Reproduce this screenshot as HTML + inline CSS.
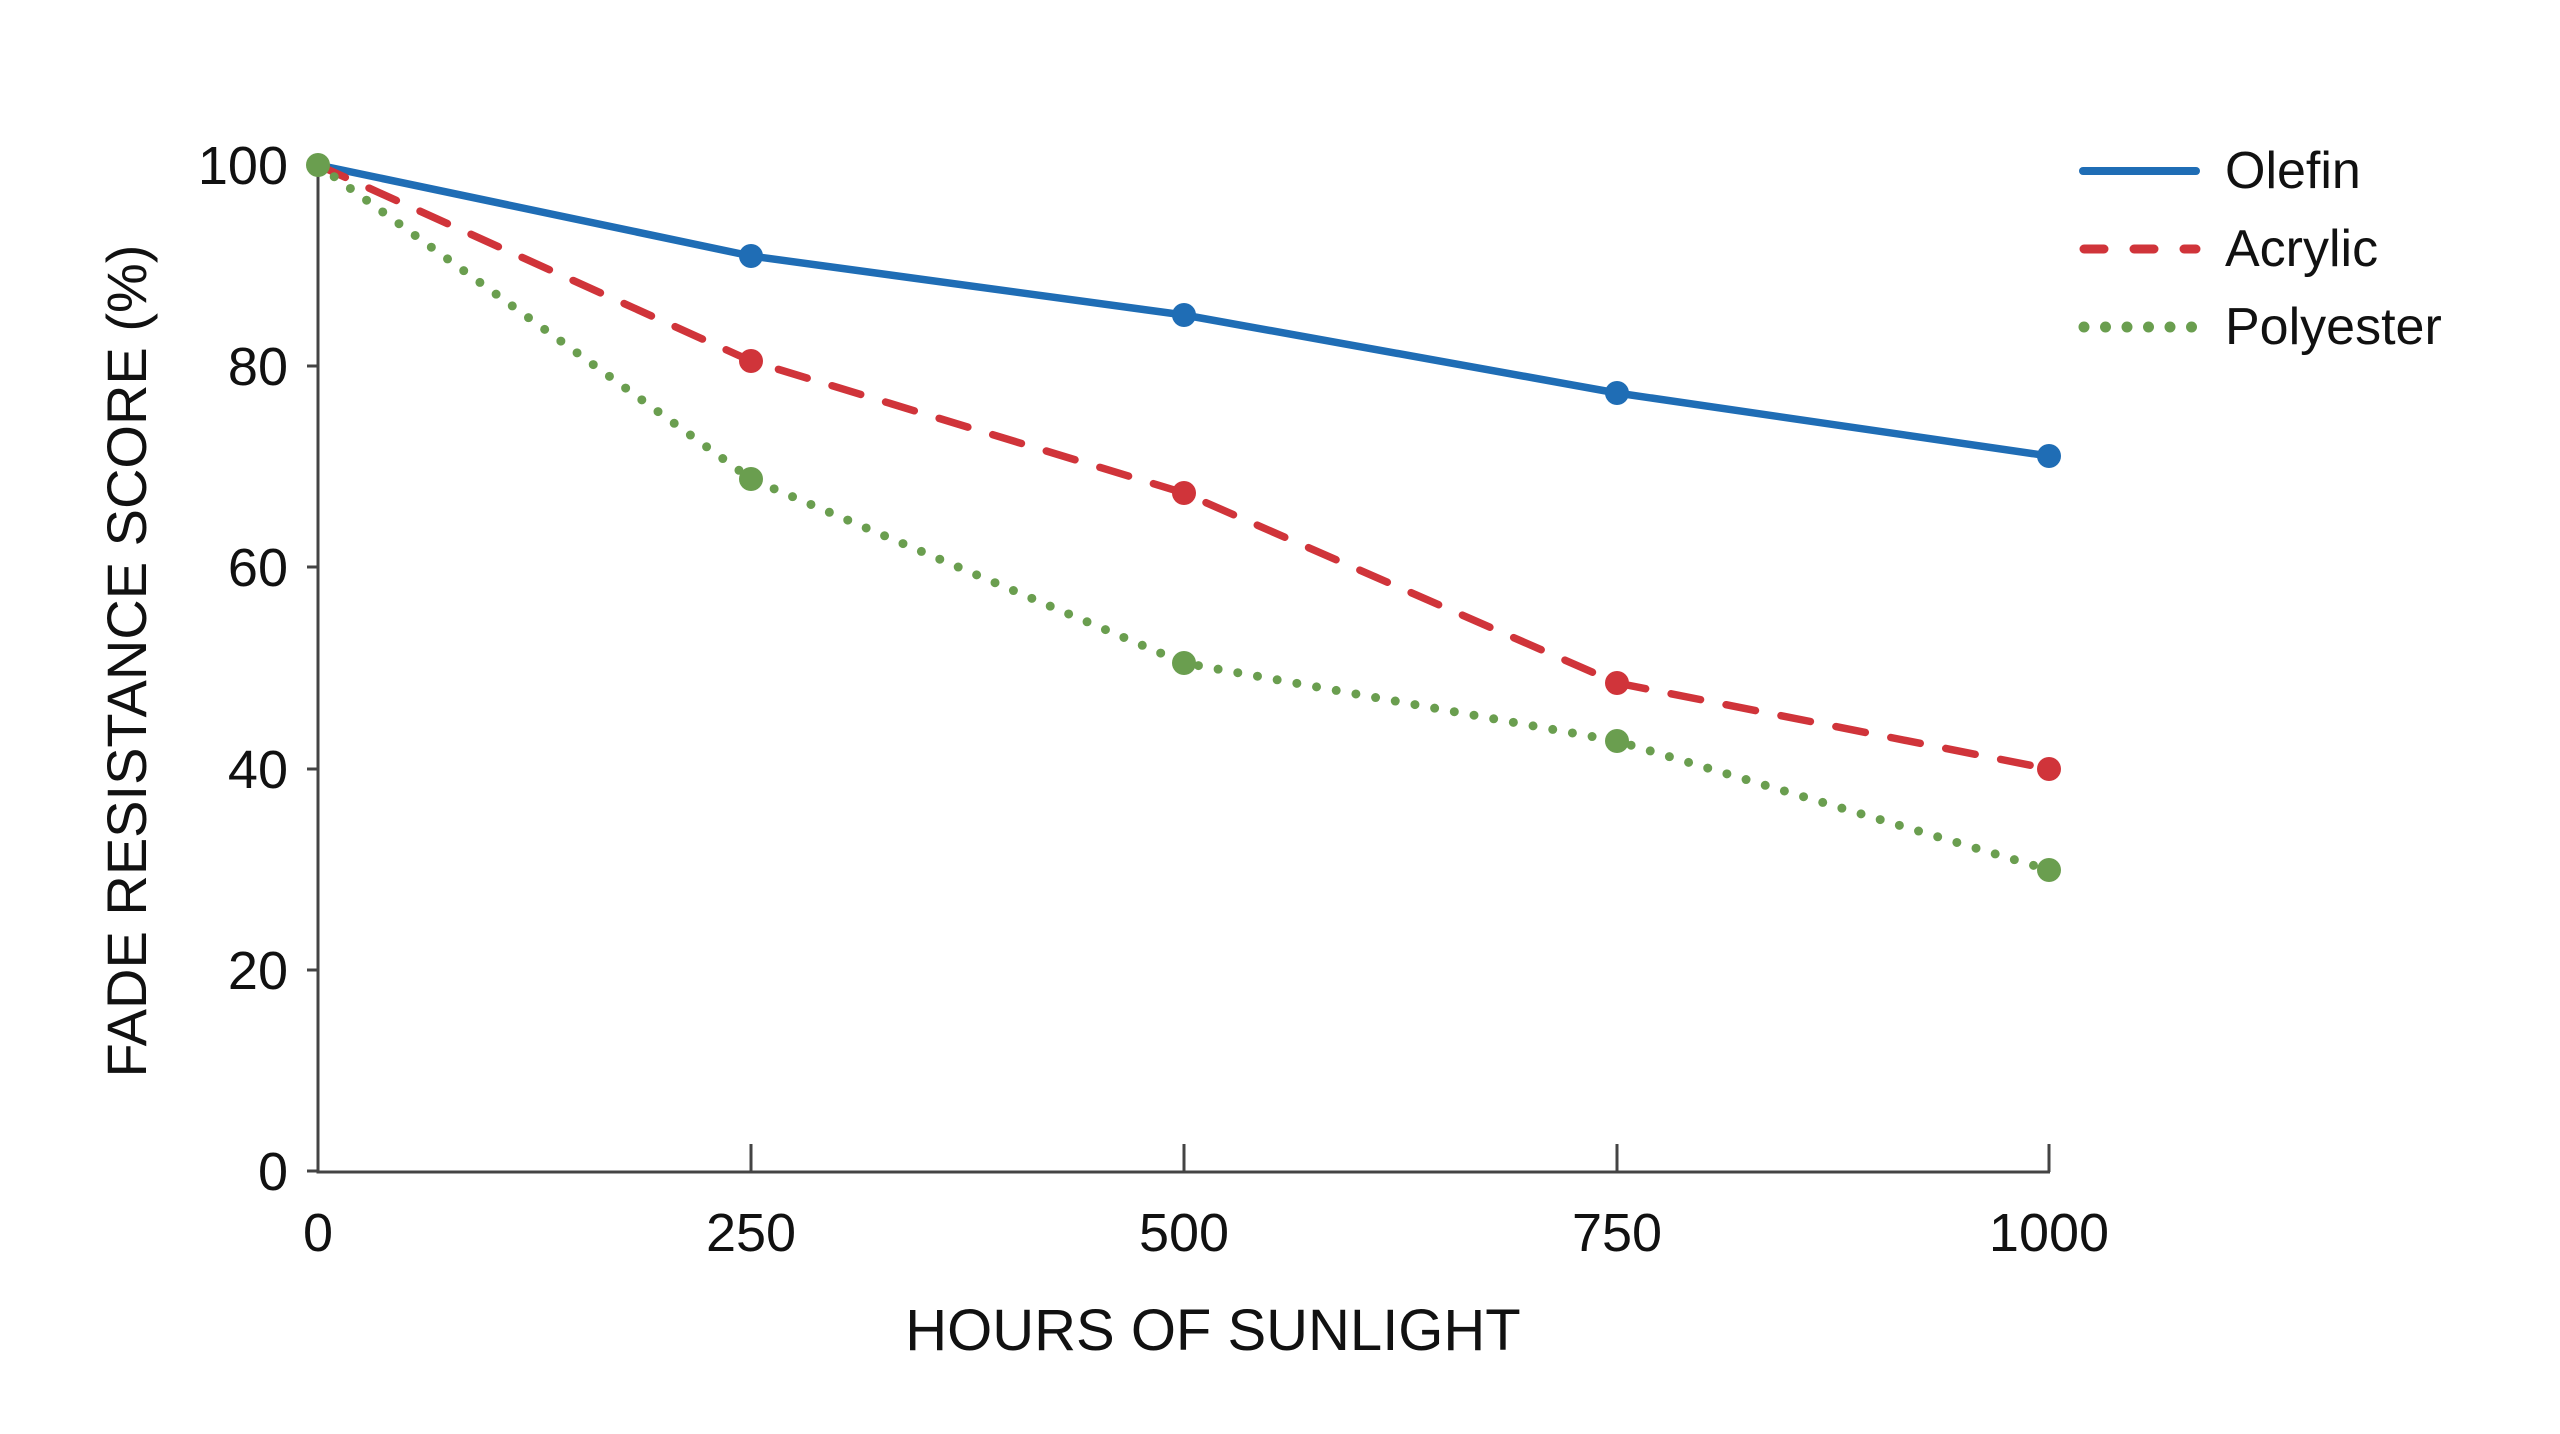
<!DOCTYPE html>
<html><head><meta charset="utf-8"><style>html,body{margin:0;padding:0;background:#fff}</style></head>
<body>
<svg width="2560" height="1429" viewBox="0 0 2560 1429" xmlns="http://www.w3.org/2000/svg" font-family="Liberation Sans, DejaVu Sans, sans-serif">
<rect width="2560" height="1429" fill="#fff"/>
<g stroke="#444" stroke-width="3" fill="none">
<path d="M318 160 V1172 H2050"/>
<path d="M751 1172 V1144 M1184 1172 V1144 M1617 1172 V1144 M2049 1172 V1144"/>
<path d="M307 165 H318 M307 366 H318 M307 567 H318 M307 769 H318 M307 970 H318 M307 1171 H318"/>
</g>
<g font-size="54" fill="#111" text-anchor="end">
<text x="288" y="184">100</text><text x="288" y="385">80</text><text x="288" y="586">60</text><text x="288" y="788">40</text><text x="288" y="989">20</text><text x="288" y="1190">0</text>
</g>
<g font-size="54" fill="#111" text-anchor="middle">
<text x="318" y="1251">0</text><text x="751" y="1251">250</text><text x="1184" y="1251">500</text><text x="1617" y="1251">750</text><text x="2049" y="1251">1000</text>
<text x="1213" y="1350" font-size="58">HOURS OF SUNLIGHT</text>
<text transform="translate(146,661) rotate(-90)" font-size="56">FADE RESISTANCE SCORE (%)</text>
</g>
<g fill="none" stroke-width="7.5" stroke-linecap="round" stroke-linejoin="round">
<polyline stroke="#1f6db5" points="318,165 751,256 1184,315 1617,393 2049,456"/>
<polyline stroke="#d0343a" stroke-dasharray="30 26" points="318,165 751,361 1184,493 1617,683 2049,769"/>
<polyline stroke="#6a9e4f" stroke-dasharray="0 20" stroke-width="9" points="318,165 751,479 1184,663 1617,741 2049,870"/>
</g>
<g fill="#1f6db5"><circle cx="751" cy="256" r="12"/><circle cx="1184" cy="315" r="12"/><circle cx="1617" cy="393" r="12"/><circle cx="2049" cy="456" r="12"/></g>
<g fill="#d0343a"><circle cx="751" cy="361" r="12"/><circle cx="1184" cy="493" r="12"/><circle cx="1617" cy="683" r="12"/><circle cx="2049" cy="769" r="12"/></g>
<g fill="#6a9e4f"><circle cx="318" cy="165" r="12"/><circle cx="751" cy="479" r="12"/><circle cx="1184" cy="663" r="12"/><circle cx="1617" cy="741" r="12"/><circle cx="2049" cy="870" r="12"/></g>
<g stroke-linecap="round" fill="none">
<line x1="2083" y1="171" x2="2196" y2="171" stroke="#1f6db5" stroke-width="8"/>
<line x1="2084" y1="249" x2="2196" y2="249" stroke="#d0343a" stroke-width="9" stroke-dasharray="20 30"/>
<line x1="2084" y1="327" x2="2196" y2="327" stroke="#6a9e4f" stroke-width="11" stroke-dasharray="0 21.5"/>
</g>
<g font-size="52" fill="#111">
<text x="2225" y="188">Olefin</text><text x="2225" y="266">Acrylic</text><text x="2225" y="344">Polyester</text>
</g>
</svg>
</body></html>
